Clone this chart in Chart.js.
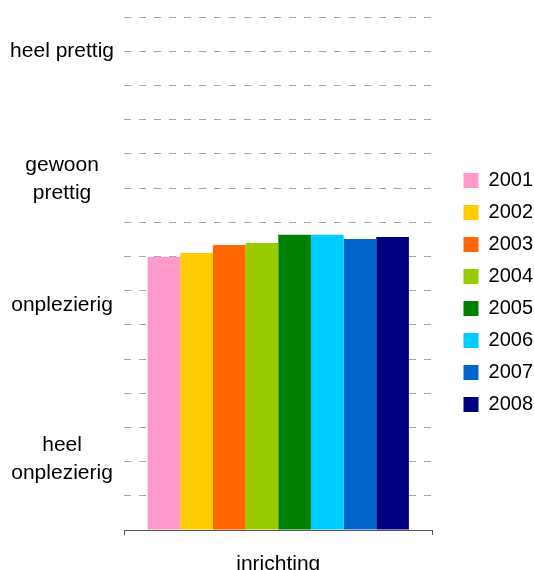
<!DOCTYPE html>
<html>
<head>
<meta charset="utf-8">
<script src="https://cdn.jsdelivr.net/npm/chart.js@4"></script>
<style>
  html, body { margin: 0; padding: 0; background: #fff; }
  #wrap { width: 534px; height: 570px; }
</style>
</head>
<body>
<div id="wrap"><canvas id="myChart"></canvas></div>
<script>
const categories = ["inrichting"];
const years = ["2001", "2002", "2003", "2004", "2005", "2006", "2007", "2008"];
const scores = [7.98, 8.1, 8.33, 8.39, 8.63, 8.63, 8.51, 8.57];
const colors = ["#ff99cc", "#ffcc00", "#ff6600", "#99cc00", "#008000", "#00ccff", "#0066cc", "#000080"];
const tickValues = [2.07, 6.58, 10.26, 14];
const tickLabels = [["heel", "onplezierig"], "onplezierig", ["gewoon", "prettig"], "heel prettig"];
const gridValues = [0, 1, 2, 3, 4, 5, 6, 7, 8, 9, 10, 11, 12, 13, 14, 15];

// nudge the legend to where it sits in the original
const legendShift = {
  id: "legendShift",
  afterLayout(chart) {
    if (chart.legend) {
      chart.legend.left += 19;
      chart.legend.right += 19;
      chart.legend.top -= 1;
      chart.legend.bottom -= 1;
    }
  },
};

document.addEventListener("DOMContentLoaded", function () {
  const ctx = document.getElementById("myChart");
  new Chart(ctx, {
    type: "bar",
    data: {
      labels: categories,
      datasets: years.map((y, i) => ({
        label: y,
        data: [scores[i]],
        backgroundColor: colors[i],
        borderWidth: 0,
      })),
    },
    plugins: [legendShift],
    options: {
      responsive: true,
      maintainAspectRatio: false,
      animation: false,
      layout: { padding: { top: 17, right: 10, left: 0, bottom: 0 } },
      datasets: {
        bar: { categoryPercentage: 0.847, barPercentage: 1 },
      },
      plugins: {
        tooltip: { enabled: false },
        legend: {
          position: "right",
          labels: {
            color: "#000",
            boxWidth: 15,
            boxHeight: 15,
            padding: 12,
            font: { family: "'Liberation Sans', Arial, sans-serif", size: 20 },
          },
        },
      },
      scales: {
        x: {
          afterFit: function (scale) {
            scale.height = 40;
          },
          grid: {
            display: true,
            drawOnChartArea: false,
            drawTicks: true,
            tickLength: 5,
            color: "#555",
          },
          border: { display: true, color: "#555", width: 1 },
          ticks: {
            color: "#000",
            padding: 17,
            font: { family: "'Liberation Sans', Arial, sans-serif", size: 21 },
          },
        },
        y: {
          min: 0,
          max: 15,
          afterFit: function (scale) {
            scale.width = 124;
            scale.paddingTop = 0;
            scale.paddingBottom = 0;
          },
          afterBuildTicks: function (scale) {
            const all = gridValues.concat(tickValues.filter(v => !gridValues.includes(v)));
            all.sort((a, b) => a - b);
            scale.ticks = all.map(v => ({ value: v }));
          },
          grid: {
            drawTicks: false,
            lineWidth: 1,
            color: function (c) {
              if (!c.tick) return "transparent";
              const v = c.tick.value;
              return Number.isInteger(v) && v > 0 ? "#a6a6a6" : "transparent";
            },
          },
          border: { display: false, dash: [7, 8] },
          ticks: {
            color: "#000",
            padding: 10,
            crossAlign: "center",
            autoSkip: false,
            font: { family: "'Liberation Sans', Arial, sans-serif", size: 21, lineHeight: 1.33 },
            callback: function (value) {
              const idx = tickValues.indexOf(value);
              return idx >= 0 ? tickLabels[idx] : "";
            },
          },
        },
      },
    },
  });
});
</script>
</body>
</html>
